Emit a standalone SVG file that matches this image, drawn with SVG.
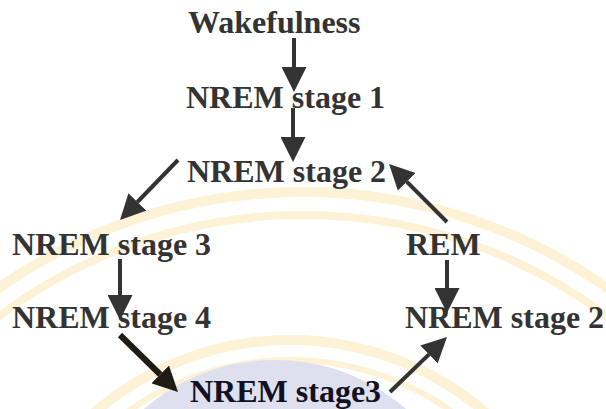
<svg xmlns="http://www.w3.org/2000/svg" width="606" height="409" viewBox="0 0 606 409">
  <style>
    .lbl { font-family: "Liberation Serif", "Times New Roman", serif; font-weight: bold; font-size: 32px; fill: #333333; }
    .dark { fill: #111122; }
    .ring { fill: none; stroke: #fdf2d6; }
    .edge { stroke: #333333; stroke-width: 4; fill: none; }
    .edge.thick { stroke: #1e1c14; stroke-width: 6; }
  </style>
  <defs>
    <marker id="head" markerUnits="userSpaceOnUse" viewBox="0 0 25 25" markerWidth="25" markerHeight="25" refX="0" refY="12.5" orient="auto">
      <path d="M0,0 L25,12.5 L0,25 Z" fill="#333333"/>
    </marker>
    <marker id="headDark" markerUnits="userSpaceOnUse" viewBox="0 0 25 25" markerWidth="25" markerHeight="25" refX="0" refY="12.5" orient="auto">
      <path d="M0,0 L25,12.5 L0,25 Z" fill="#1e1c14"/>
    </marker>
  </defs>
  <rect width="606" height="409" fill="#ffffff"/>
  <g id="watermark">
    <circle class="ring" cx="303" cy="722" r="530" stroke-width="10"/>
    <circle class="ring" cx="303" cy="722" r="507" stroke-width="8"/>
    <circle class="ring" cx="290" cy="640" r="300" stroke-width="10"/>
    <circle class="ring" cx="290" cy="640" r="280" stroke-width="6"/>
    <circle cx="275" cy="560" r="200" fill="#dedfef"/>
  </g>
  <g id="connectors">
    <line class="edge" x1="294" y1="38" x2="294" y2="67" marker-end="url(#head)"/>
    <line class="edge" x1="293" y1="108" x2="293" y2="137" marker-end="url(#head)"/>
    <line class="edge" x1="178" y1="160" x2="137.4" y2="202" marker-end="url(#head)"/>
    <line class="edge" x1="447" y1="222" x2="406.7" y2="181.7" marker-end="url(#head)"/>
    <line class="edge" x1="120" y1="259" x2="120" y2="295" marker-end="url(#head)"/>
    <line class="edge" x1="447" y1="260" x2="447" y2="288" marker-end="url(#head)"/>
    <line class="edge thick" x1="120" y1="335" x2="160.2" y2="374.5" marker-end="url(#headDark)"/>
    <line class="edge" x1="390" y1="392" x2="429" y2="354.4" marker-end="url(#head)"/>
  </g>
  <g id="wake"><text class="lbl" x="188" y="33">Wakefulness</text></g>
  <g id="nrem1"><text class="lbl" x="186" y="108">NREM stage 1</text></g>
  <g id="nrem2a"><text class="lbl" x="187" y="182">NREM stage 2</text></g>
  <g id="nrem3a"><text class="lbl" x="12" y="255">NREM stage 3</text></g>
  <g id="rem"><text class="lbl" x="406" y="255">REM</text></g>
  <g id="nrem4"><text class="lbl" x="12" y="328">NREM stage 4</text></g>
  <g id="nrem2b"><text class="lbl" x="405" y="328">NREM stage 2</text></g>
  <g id="nrem3b"><text class="lbl dark" x="190" y="402">NREM stage3</text></g>
</svg>
